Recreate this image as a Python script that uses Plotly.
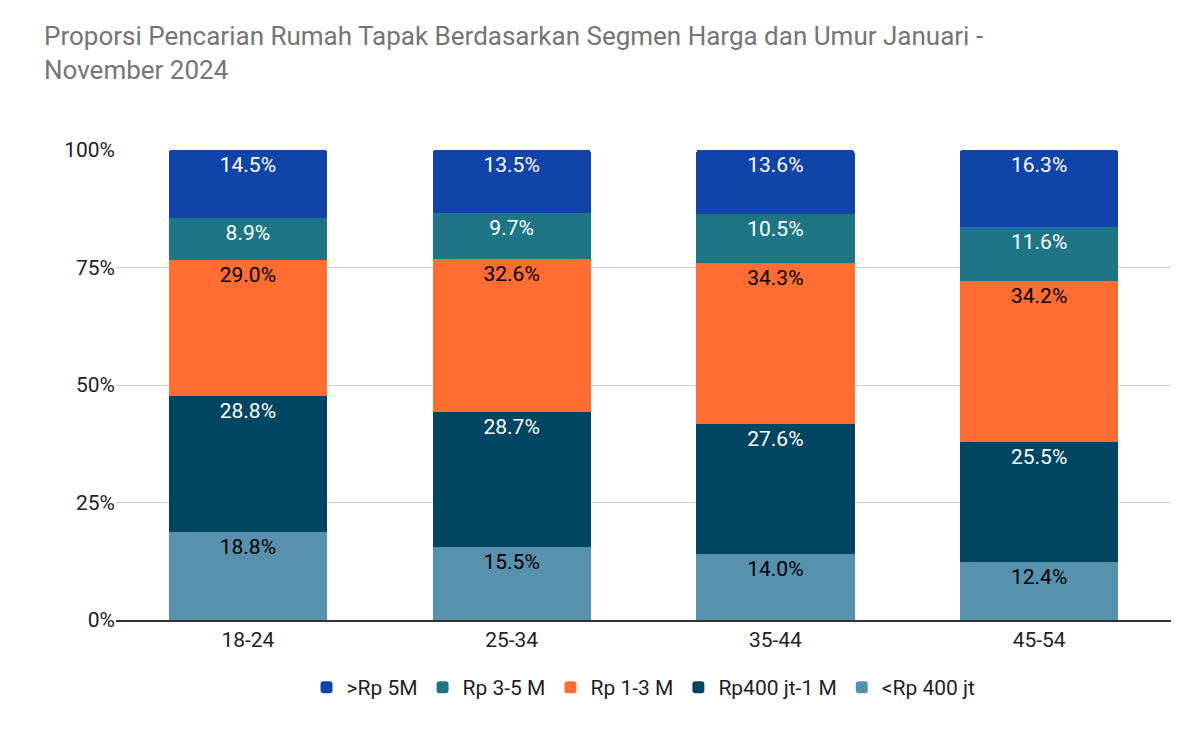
import plotly.graph_objects as go

categories = ["18-24", "25-34", "35-44", "45-54"]
lt400 = [18.8, 15.5, 14.0, 12.4]
r400_1m = [28.8, 28.7, 27.6, 25.5]
r1_3m = [29.0, 32.6, 34.3, 34.2]
r3_5m = [8.9, 9.7, 10.5, 11.6]
gt5m = [14.5, 13.5, 13.6, 16.3]

series = [
    ("<Rp 400 jt", lt400, "#5891AD", "#000000"),
    ("Rp400 jt-1 M", r400_1m, "#004561", "#FFFFFF"),
    ("Rp 1-3 M", r1_3m, "#FF6D33", "#000000"),
    ("Rp 3-5 M", r3_5m, "#1E7585", "#FFFFFF"),
    (">Rp 5M", gt5m, "#1044A8", "#FFFFFF"),
]

fig = go.Figure()
for name, vals, color, tcol in series:
    fig.add_trace(go.Bar(
        x=categories, y=[v / 100 for v in vals], name=name,
        marker=dict(color=color, line=dict(width=0)),
        text=[f"{v:.1f}%" for v in vals], textposition="inside",
        insidetextanchor="end", textangle=0,
        textfont=dict(color=tcol, size=21, family="Roboto"),
        hoverinfo="skip",
    ))

fig.update_layout(
    barmode="stack", bargap=0.4, barcornerradius=3,
    width=1200, height=742,
    margin=dict(l=108, r=37, t=142, b=130),
    paper_bgcolor="white", plot_bgcolor="white",
    font=dict(family="Roboto", size=21, color="#222222"),
    title=dict(text="Proporsi Pencarian Rumah Tapak Berdasarkan Segmen Harga dan Umur Januari -<br>November 2024",
               x=0.03, xanchor="left", y=0.95, yanchor="top",
               font=dict(size=26, color="#757575", family="Roboto")),
    legend=dict(orientation="h", x=0.5, xanchor="center", y=-0.1, yanchor="top",
                traceorder="reversed", font=dict(size=21, color="#222222"),
                itemwidth=30),
    uniformtext=dict(mode=False),
)
fig.update_yaxes(range=[0, 1], tickvals=[0, 0.25, 0.5, 0.75, 1],
                 ticktext=["0%", "25%", "50%", "75%", "100%"],
                 gridcolor="#CCCCCC", zeroline=False, ticks="", ticklen=0,
                 tickfont=dict(size=21))
fig.update_xaxes(showline=True, linecolor="#333333", linewidth=1.5,
                 tickfont=dict(size=21))

fig.write_html("out.html")
